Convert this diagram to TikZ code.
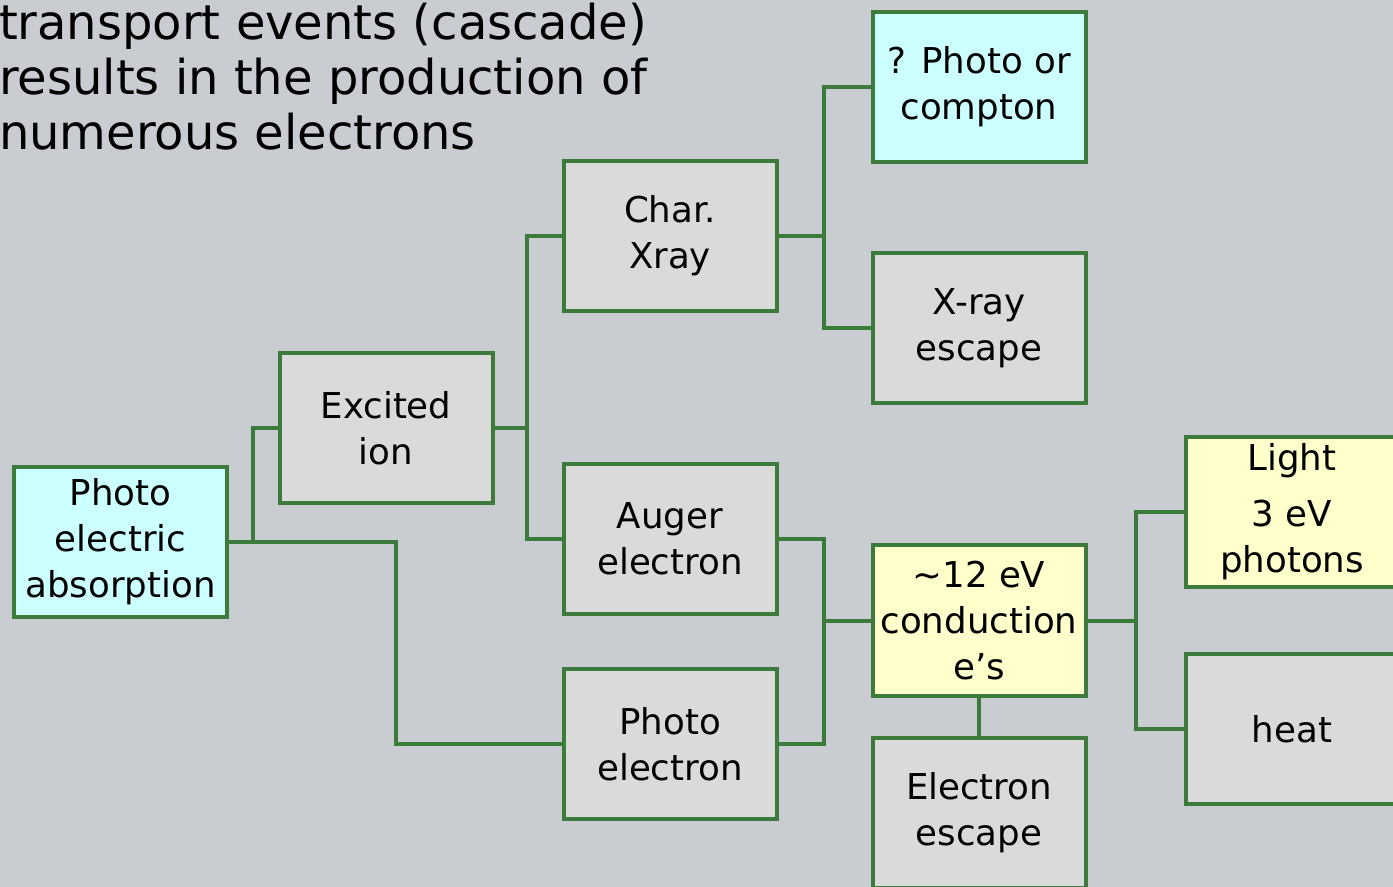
\documentclass[tikz,border=0pt]{standalone}
\usepackage{fontspec}
\setmainfont{DejaVu Sans}
\usetikzlibrary{positioning}
\definecolor{bgcol}{HTML}{C9CCD1}
\definecolor{linkgreen}{HTML}{3D7B3D}
\definecolor{boxgray}{HTML}{DADADA}
\definecolor{boxcyan}{HTML}{CCFFFF}
\definecolor{boxyellow}{HTML}{FFFFCC}

\begin{document}
\begin{tikzpicture}[x=0.5pt,y=-0.5pt,line width=2pt,
    box/.style={draw=linkgreen,fill=boxgray,minimum width=106.5pt,minimum height=75pt,
                inner sep=0pt,align=center,font=\fontsize{17.8}{23}\selectfont},
    cyanbox/.style={box,fill=boxcyan},
    yellowbox/.style={box,fill=boxyellow},
    link/.style={draw=linkgreen}]
    \useasboundingbox (0,0) rectangle (1393,887);
    \clip (0,0) rectangle (1393,887);
    \fill[bgcol] (0,0) rectangle (1393,887);

    \node[anchor=north west,inner sep=0pt,align=left,font=\fontsize{24}{27.5}\selectfont] (title) at (-3,1)
        {transport events (cascade)\\results in the production of\\numerous electrons};

    \node[cyanbox] (pea) at (120.5,542) {Photo\\electric\\absorption};
    \node[box] (ion) at (386,428) {Excited\\ion};
    \node[box] (charx) at (670,236) {Char.\\Xray};
    \node[box] (auger) at (670,539) {Auger\\electron};
    \node[box] (phel) at (670,744) {Photo\\electron};
    \node[cyanbox] (compton) at (979,87) {? Photo or\\compton};
    \node[box] (xesc) at (979,328) {X-ray\\escape};
    \node[yellowbox] (cond) at (979,620.5) {\textasciitilde12 eV\\conduction\\e's};
    \node[box] (eesc) [below=19pt of cond] {Electron\\escape};
    \node[yellowbox] (light) at (1292,512) {Light\\[5pt]3 eV\\photons};
    \node[box] (heat) at (1292,729) {heat};

    % trunk points
    \coordinate (t1) at (253,542);
    \coordinate (t1b) at (396,542);
    \coordinate (t2) at (527,428);
    \coordinate (t3) at (824,236);
    \coordinate (t4) at (824,620.5);
    \coordinate (t5) at (1136,620.5);

    \draw[link] (pea.east) -- (t1) |- (ion.west);
    \draw[link] (t1) -- (t1b) |- (phel.west);
    \draw[link] (ion.east) -- (t2) |- (charx.west);
    \draw[link] (t2) |- (auger.west);
    \draw[link] (charx.east) -- (t3) |- (compton.west);
    \draw[link] (t3) |- (xesc.west);
    \draw[link] (auger.east) -| (t4) -- (cond.west);
    \draw[link] (phel.east) -| (t4);
    \draw[link] (cond.east) -- (t5) |- (light.west);
    \draw[link] (t5) |- (heat.west);
    \draw[link] (cond.south) -- (eesc.north);
\end{tikzpicture}
\end{document}
